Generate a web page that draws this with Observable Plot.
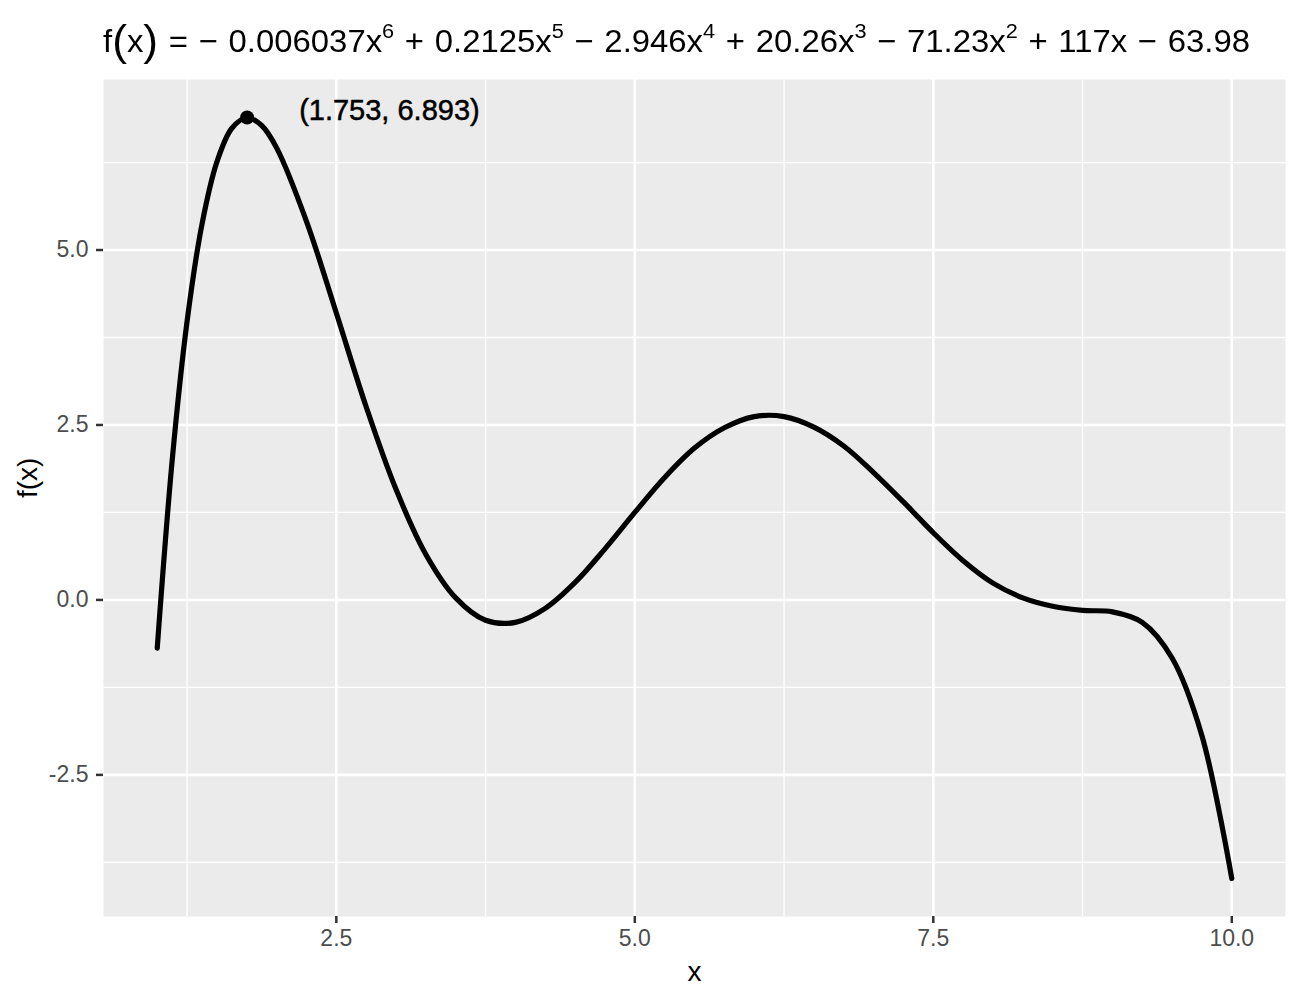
<!DOCTYPE html>
<html>
<head>
<meta charset="utf-8">
<script src="https://cdn.jsdelivr.net/npm/d3@7"></script>
<script src="https://cdn.jsdelivr.net/npm/@observablehq/plot@0.6"></script>
<style>
  html, body { margin: 0; padding: 0; background: #ffffff; }
  #wrap { width: 1300px; height: 1000px; position: relative; font-family: "Liberation Sans", Arial, sans-serif; }
  #title { position: relative; height: 70px; width: 1300px; }
  #title .t { position: absolute; left: 103px; top: 25px; font-size: 32px; line-height: 32px; white-space: nowrap; color: #000; word-spacing: 1.5px; transform-origin: 0 0; }
  #title .t sup { font-size: 0.66em; position: relative; top: -0.66em; vertical-align: baseline; line-height: 0; }
  #title .t .p { font-size: 1.35em; line-height: 0; position: relative; top: 0.06em; }
  #chart svg { display: block; }
</style>
</head>
<body>
<div id="wrap">
  <div id="title"><span class="t"></span></div>
  <div id="chart"></div>
</div>
<script>
// Curve values
const xs = [1, 1.125, 1.25, 1.375, 1.5, 1.625, 1.75, 1.875, 2, 2.25, 2.5, 2.75, 3, 3.25, 3.5, 3.75, 4, 4.25, 4.5, 4.75, 5, 5.25, 5.5, 5.75, 6, 6.25, 6.5, 6.75, 7, 7.25, 7.5, 7.75, 8, 8.25, 8.5, 8.75, 9, 9.25, 9.5, 9.75, 10];
const ys = [-0.69, 1.99, 3.98, 5.37, 6.26, 6.74, 6.89, 6.78, 6.46, 5.41, 4.10, 2.76, 1.58, 0.65, 0.03, -0.29, -0.32, -0.12, 0.25, 0.73, 1.25, 1.75, 2.17, 2.46, 2.62, 2.62, 2.47, 2.20, 1.82, 1.40, 0.96, 0.56, 0.24, 0.03, -0.09, -0.15, -0.17, -0.32, -0.83, -1.94, -3.98];

// Peak annotation
const peakX = [1.753];
const peakY = [6.893];
const peakLabel = ["(1.753, 6.893)"];

// Axis ticks
const xMajor = [2.5, 5, 7.5, 10];
const xMinor = [1.25, 3.75, 6.25, 8.75];
const xTickLabels = ["2.5", "5.0", "7.5", "10.0"];
const yMajor = [-2.5, 0, 2.5, 5];
const yMinor = [-3.75, -1.25, 1.25, 3.75, 6.25];
const yTickLabels = ["-2.5", "0.0", "2.5", "5.0"];

// Title parts: sign, coefficient, variable, power
const titleTerms = [
  ["−", "0.006037", "x", "6"],
  ["+", "0.2125", "x", "5"],
  ["−", "2.946", "x", "4"],
  ["+", "20.26", "x", "3"],
  ["−", "71.23", "x", "2"],
  ["+", "117", "x", ""],
  ["−", "63.98", "", ""]
];

const titleEl = document.querySelector("#title .t");
let html = 'f<span class="p">(</span>x<span class="p">)</span> = ';
titleTerms.forEach((t, i) => {
  html += (i === 0 ? "" : " ") + t[0] + " " + t[1] + t[2] + (t[3] ? "<sup>" + t[3] + "</sup>" : "");
});
titleEl.innerHTML = html;
// stretch the title horizontally so it spans the same width as the reference title
const targetWidth = 1147;
const w0 = titleEl.getBoundingClientRect().width;
titleEl.style.transform = "scaleX(" + (targetWidth / w0) + ")";

const data = xs.map((x, i) => ({x, y: ys[i]}));
const peak = peakX.map((x, i) => ({x, y: peakY[i], label: peakLabel[i]}));

const yMin = d3.min(ys), yMax = d3.max(peakY.concat(ys));
const xMin = d3.min(xs), xMax = d3.max(xs);
const xPad = (xMax - xMin) * 0.05, yPad = (yMax - yMin) * 0.05;

const font = "Liberation Sans, Arial, sans-serif";

const chart = Plot.plot({
  width: 1300,
  height: 930,
  marginTop: 9,
  marginBottom: 84,
  marginLeft: 103,
  marginRight: 15,
  style: {fontFamily: font, background: "#ffffff", overflow: "visible"},
  x: {domain: [xMin - xPad, xMax + xPad]},
  y: {domain: [yMin - yPad, yMax + yPad]},
  marks: [
    Plot.frame({fill: "#EBEBEB", stroke: "none"}),
    Plot.ruleX(xMinor, {stroke: "#ffffff", strokeWidth: 1.3}),
    Plot.ruleY(yMinor, {stroke: "#ffffff", strokeWidth: 1.3}),
    Plot.ruleX(xMajor, {stroke: "#ffffff", strokeWidth: 2.6}),
    Plot.ruleY(yMajor, {stroke: "#ffffff", strokeWidth: 2.6}),
    Plot.line(data, {x: "x", y: "y", curve: "catmull-rom", stroke: "#000000", strokeWidth: 5.2, strokeLinejoin: "round"}),
    Plot.dot(peak, {x: "x", y: "y", r: 7, fill: "#000000", stroke: "none"}),
    Plot.text(peak, {x: "x", y: "y", text: "label", textAnchor: "start", lineAnchor: "bottom", dx: 52, dy: 2, fontSize: 29, fill: "#000000", stroke: "#000000", strokeWidth: 0.5}),
    Plot.axisX(xMajor, {tickFormat: (d, i) => xTickLabels[i], tickSize: 7, tickPadding: 6, fontSize: 23, stroke: "#333333", strokeWidth: 2.5, fill: "#4D4D4D", label: null}),
    Plot.axisY(yMajor, {tickFormat: (d, i) => yTickLabels[i], tickSize: 7, tickPadding: 8, fontSize: 23, stroke: "#333333", strokeWidth: 2.5, fill: "#4D4D4D", label: null}),
    Plot.text(["x"], {frameAnchor: "bottom", lineAnchor: "bottom", dy: 64, fontSize: 28, fill: "#000000"}),
    Plot.text(["f(x)"], {frameAnchor: "left", lineAnchor: "bottom", rotate: -90, dx: -67, fontSize: 28, fill: "#000000"})
  ]
});
document.getElementById("chart").appendChild(chart);
</script>
</body>
</html>
